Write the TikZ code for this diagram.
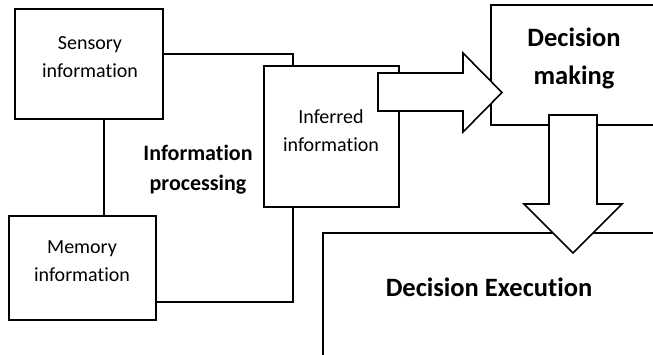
\documentclass[tikz,border=0pt]{standalone}
\usepackage{fontspec}
\setmainfont{Carlito}[Ligatures=NoCommon]
\begin{document}
\begin{tikzpicture}[x=1pt,y=-1pt, line width=1.6pt,
 box/.style={draw, rectangle, anchor=north west, inner sep=0pt, outer sep=0pt},
 txt/.style={font=\fontsize{20}{28}\selectfont, align=center, inner sep=0pt},
 btxt/.style={font=\bfseries\fontsize{22}{30}\selectfont, align=center, inner sep=0pt},
 bigtxt/.style={font=\bfseries\fontsize{26.5}{38}\selectfont, align=center, inner sep=0pt},
 fat/.style={draw, fill=white, line join=miter}]
\useasboundingbox (0,0) rectangle (653,354);
\clip (0,0) rectangle (653,354);
% boxes
\node[box, minimum width=148pt, minimum height=110pt] (sens) at (15,9) {};
\node[box, minimum width=147pt, minimum height=104pt] (mem) at (9,216) {};
\node[box, minimum width=135pt, minimum height=141pt] (inf) at (264,66) {};
\node[box, minimum width=200pt, minimum height=120pt] (dm) at (491,5) {};
\node[box, minimum width=400pt, minimum height=200pt] (de) at (323,233) {};
% texts
\node[txt] (senst) at (90,57) {Sensory\\information};
\node[txt] (memt) at (82,261) {Memory\\information};
\node[txt] (inft) at (331,131) {Inferred\\information};
\node[btxt] (ipt) at (198,170) {Information\\processing};
\node[bigtxt] (dmt) at (574,58) {Decision\\making};
\node[bigtxt] (det) at (489,287) {Decision Execution};
% connectors
\draw (sens.east |- 0,54) -| (293,0 |- inf.north);
\draw (sens.south -| 104,0) -- (mem.north -| 104,0);
\draw (mem.east |- 0,302) -| (293,0 |- inf.south);
% block arrows
\draw[fat] (378,73) -- (463,73) -- (463,53) -- (502,92.5) -- (463,132) -- (463,111) -- (378,111) -- cycle;
\draw[fat] (549,115) -- (597,115) -- (597,204) -- (622,204) -- (573,253) -- (524,204) -- (549,204) -- cycle;
\end{tikzpicture}
\end{document}
